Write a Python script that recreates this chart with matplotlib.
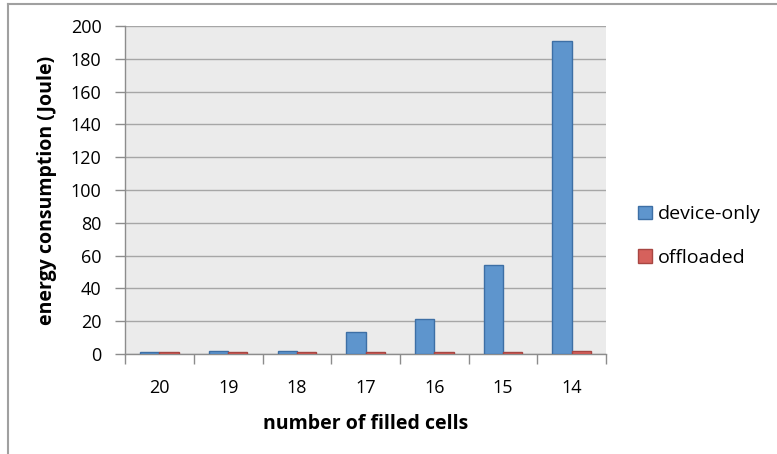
import numpy as np
import matplotlib.pyplot as plt
from matplotlib.lines import Line2D

cells = ['20', '19', '18', '17', '16', '15', '14']
device_only = [1.0, 2.0, 2.0, 13.5, 21.5, 54.5, 191.0]
offloaded = [1.0, 1.0, 1.0, 1.0, 1.0, 1.0, 2.2]

plt.rcParams['font.family'] = ['Open Sans', 'DejaVu Sans']

fig = plt.figure(figsize=(7.77, 4.54), dpi=100)
ax = fig.add_axes([0.161, 0.220, 0.619, 0.723])

x = np.arange(len(cells))
w = 0.28
ax.bar(x - w / 2, device_only, w, color='#5E95CD', edgecolor='#3D6FA5', linewidth=1, label='device-only', zorder=3)
ax.bar(x + w / 2, offloaded, w, color='#D6615C', edgecolor='#A84642', linewidth=1, label='offloaded', zorder=3)

ax.set_facecolor('#EBEBEB')
ax.set_xlim(-0.5, len(cells) - 0.5)
ax.set_ylim(0, 200)
ax.set_yticks(range(0, 201, 20))
ax.set_xticks(x)
ax.set_xticklabels(cells)
ax.yaxis.grid(True, color='#A6A6A6', linewidth=1, zorder=0)
ax.set_axisbelow(True)

# category separator ticks on x axis
ax.set_xticks(np.arange(-0.5, len(cells), 1), minor=True)
ax.tick_params(axis='x', which='major', length=0, labelsize=13, pad=18)
ax.tick_params(axis='x', which='minor', length=7, color='#8C8C8C', width=1)
ax.tick_params(axis='y', length=7, color='#8C8C8C', width=1, labelsize=13, pad=10)

for s in ['top', 'right']:
    ax.spines[s].set_visible(False)
for s in ['left', 'bottom']:
    ax.spines[s].set_color('#8C8C8C')
    ax.spines[s].set_linewidth(1)

ax.set_xlabel('number of filled cells', fontsize=14, fontweight='bold', labelpad=12)
ax.set_ylabel('energy consumption (Joule)', fontsize=14, fontweight='bold', labelpad=10)

ax.legend(loc='center left', bbox_to_anchor=(1.03, 0.36), frameon=False, fontsize=14,
          handlelength=0.7, handleheight=0.7, labelspacing=1.3, handletextpad=0.3)

# outer chart border (only top and left edges are visible)
fig.add_artist(Line2D([8 / 777, 1], [1 - 3.5 / 454, 1 - 3.5 / 454], transform=fig.transFigure,
                      color='#A0A0A0', linewidth=1.5))
fig.add_artist(Line2D([8 / 777, 8 / 777], [0, 1 - 3.5 / 454], transform=fig.transFigure,
                      color='#A0A0A0', linewidth=1.5))

fig.savefig('out.png', dpi=100)
